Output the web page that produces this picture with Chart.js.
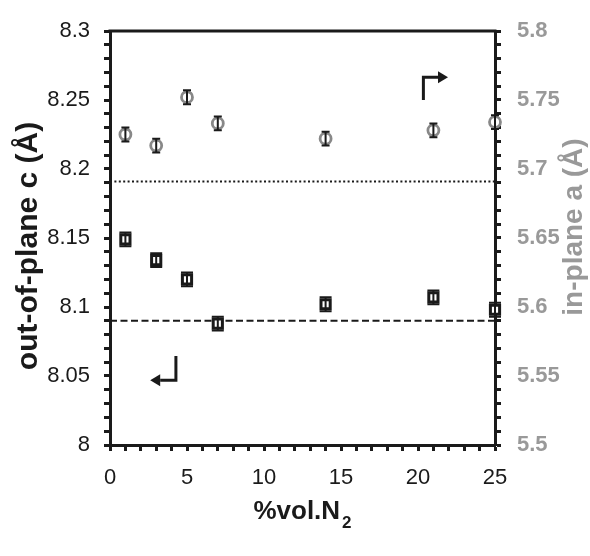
<!DOCTYPE html>
<html>
<head>
<meta charset="utf-8">
<script src="https://cdn.jsdelivr.net/npm/chart.js@4.4.1/dist/chart.umd.min.js"></script>
<style>
  html, body { margin: 0; padding: 0; background: #ffffff; }
  #wrap { width: 590px; height: 556px; position: relative; }
</style>
</head>
<body>
<div id="wrap"><canvas id="c"></canvas></div>
<script>
// ---- data ----
const nitrogen = [1, 3, 5, 7, 14, 21, 25];            // %vol. N2
const cOutOfPlane = [8.149, 8.134, 8.120, 8.088, 8.102, 8.107, 8.098]; // Å, left axis
const cError = [0.005, 0.005, 0.005, 0.005, 0.005, 0.005, 0.005];
const aInPlane = [5.725, 5.717, 5.752, 5.733, 5.722, 5.728, 5.734];   // Å, right axis
const aError = [0.005, 0.005, 0.005, 0.005, 0.005, 0.005, 0.005];
const dottedRef = 8.191;   // reference line (left axis units)
const dashedRef = 8.090;   // reference line (left axis units)
const xRange = [0, 25];
const cRange = [8.0, 8.3];
const aRange = [5.5, 5.8];
// arrow annotations in data units: [x, y] on left axis
const arrowUp = [[20.35, 8.250], [20.35, 8.2665], [21.95, 8.2665]];
const arrowDown = [[4.28, 8.0645], [4.28, 8.047], [2.61, 8.047]];

const BLACK = '#1a1a1a';
const GRAY = '#888888';
const LABEL_GRAY = '#999999';

function fmt(v) {
  const r = Math.round(v * 100);
  return r % 5 === 0 ? String(+(r / 100).toFixed(2)) : '';
}

const errorBars = {
  id: 'errorBars',
  afterDatasetsDraw(chart) {
    const ctx = chart.ctx;
    const xs = chart.scales.x;
    const sets = [
      {vals: cOutOfPlane, err: cError, scale: chart.scales.y, cap: 6},
      {vals: aInPlane, err: aError, scale: chart.scales.y2, cap: 4}
    ];
    ctx.save();
    ctx.strokeStyle = BLACK;
    ctx.lineWidth = 2;
    sets.forEach(s => {
      nitrogen.forEach((xv, i) => {
        const px = xs.getPixelForValue(xv);
        const y1 = s.scale.getPixelForValue(s.vals[i] + s.err[i]);
        const y2 = s.scale.getPixelForValue(s.vals[i] - s.err[i]);
        ctx.beginPath();
        ctx.moveTo(px, y1); ctx.lineTo(px, y2);
        ctx.moveTo(px - s.cap, y1); ctx.lineTo(px + s.cap, y1);
        ctx.moveTo(px - s.cap, y2); ctx.lineTo(px + s.cap, y2);
        ctx.stroke();
      });
    });
    ctx.restore();
  }
};

const decorations = {
  id: 'decorations',
  afterDraw(chart) {
    const ctx = chart.ctx;
    const area = chart.chartArea;
    const xs = chart.scales.x, ys = chart.scales.y;
    ctx.save();
    // top frame
    ctx.strokeStyle = BLACK;
    ctx.lineWidth = 3;
    ctx.beginPath();
    ctx.moveTo(area.left - 1.5, area.top);
    ctx.lineTo(area.right + 1.5, area.top);
    ctx.stroke();

    // arrows
    function arrow(pts) {
      const p = pts.map(q => [xs.getPixelForValue(q[0]), ys.getPixelForValue(q[1])]);
      const last = p[p.length - 1], prev = p[p.length - 2];
      const ang = Math.atan2(last[1] - prev[1], last[0] - prev[0]);
      const headLen = 10, headW = 6;
      ctx.strokeStyle = BLACK;
      ctx.fillStyle = BLACK;
      ctx.lineWidth = 3;
      ctx.lineJoin = 'miter';
      ctx.beginPath();
      ctx.moveTo(p[0][0], p[0][1]);
      for (let i = 1; i < p.length - 1; i++) ctx.lineTo(p[i][0], p[i][1]);
      ctx.lineTo(last[0] - Math.cos(ang) * headLen, last[1] - Math.sin(ang) * headLen);
      ctx.stroke();
      ctx.beginPath();
      ctx.moveTo(last[0], last[1]);
      const bx = last[0] - Math.cos(ang) * headLen, by = last[1] - Math.sin(ang) * headLen;
      ctx.lineTo(bx + Math.sin(ang) * headW, by - Math.cos(ang) * headW);
      ctx.lineTo(bx - Math.sin(ang) * headW, by + Math.cos(ang) * headW);
      ctx.closePath();
      ctx.fill();
    }
    arrow(arrowUp);
    arrow(arrowDown);

    // axis titles
    const midY = (area.top + area.bottom) / 2;
    ctx.textAlign = 'center';
    ctx.textBaseline = 'alphabetic';
    ctx.fillStyle = BLACK;
    ctx.font = 'bold 30px "Liberation Sans", Arial, sans-serif';
    ctx.save();
    ctx.translate(37, midY + 8);
    ctx.rotate(-Math.PI / 2);
    ctx.fillText('out-of-plane c (Å)', 0, 0);
    ctx.restore();

    ctx.fillStyle = LABEL_GRAY;
    ctx.font = 'bold 28px "Liberation Sans", Arial, sans-serif';
    ctx.save();
    ctx.translate(582, midY - 11);
    ctx.rotate(-Math.PI / 2);
    ctx.fillText('in-plane a (Å)', 0, 0);
    ctx.restore();

    // x title with subscript
    ctx.fillStyle = BLACK;
    ctx.textAlign = 'left';
    ctx.font = 'bold 26px "Liberation Sans", Arial, sans-serif';
    const main = '%vol.N';
    const wMain = ctx.measureText(main).width;
    ctx.font = 'bold 17px "Liberation Sans", Arial, sans-serif';
    const wSub = ctx.measureText('2').width;
    const cx = (area.left + area.right) / 2;
    const startX = cx - (wMain + wSub + 2) / 2;
    ctx.font = 'bold 26px "Liberation Sans", Arial, sans-serif';
    ctx.fillText(main, startX, 519);
    ctx.font = 'bold 17px "Liberation Sans", Arial, sans-serif';
    ctx.fillText('2', startX + wMain + 2, 528);
    ctx.restore();
  }
};

new Chart(document.getElementById('c'), {
  type: 'scatter',
  data: {
    datasets: [
      {
        label: 'c',
        data: nitrogen.map((x, i) => ({x, y: cOutOfPlane[i]})),
        yAxisID: 'y',
        pointStyle: 'rect',
        pointRadius: 6.5,
        pointBorderWidth: 3,
        pointBorderColor: BLACK,
        pointBackgroundColor: '#ffffff',
        clip: false,
        order: 1
      },
      {
        label: 'a',
        data: nitrogen.map((x, i) => ({x, y: aInPlane[i]})),
        yAxisID: 'y2',
        pointStyle: 'circle',
        pointRadius: 5.5,
        pointBorderWidth: 2.8,
        pointBorderColor: GRAY,
        pointBackgroundColor: '#ffffff',
        clip: false,
        order: 1
      },
      {
        type: 'line',
        label: 'dotted',
        data: [{x: xRange[0], y: dottedRef}, {x: xRange[1], y: dottedRef}],
        yAxisID: 'y',
        borderColor: BLACK,
        borderWidth: 2,
        borderDash: [2, 2.4],
        pointRadius: 0,
        fill: false,
        order: 2
      },
      {
        type: 'line',
        label: 'dashed',
        data: [{x: xRange[0], y: dashedRef}, {x: xRange[1], y: dashedRef}],
        yAxisID: 'y',
        borderColor: BLACK,
        borderWidth: 2,
        borderDash: [7, 3.5],
        pointRadius: 0,
        fill: false,
        order: 2
      }
    ]
  },
  options: {
    responsive: true,
    maintainAspectRatio: false,
    animation: false,
    layout: { padding: { top: 31, left: 0, right: 0, bottom: 0 } },
    plugins: { legend: { display: false }, tooltip: { enabled: false } },
    scales: {
      x: {
        type: 'linear',
        min: xRange[0], max: xRange[1],
        afterFit(s) { s.height = 111; },
        border: { display: true, color: BLACK, width: 3 },
        grid: { drawOnChartArea: false, drawTicks: true, tickLength: 6, tickWidth: 3, tickColor: BLACK },
        ticks: {
          stepSize: 1, autoSkip: false, maxRotation: 0, padding: 14,
          color: BLACK,
          font: { family: '"Liberation Sans", Arial, sans-serif', size: 22 },
          callback: v => (Math.round(v) % 5 === 0 ? String(Math.round(v)) : '')
        }
      },
      y: {
        type: 'linear', position: 'left',
        min: cRange[0], max: cRange[1],
        afterFit(s) { s.width = 110; },
        border: { display: true, color: BLACK, width: 3 },
        grid: { drawOnChartArea: false, drawTicks: true, tickLength: 6, tickWidth: 3, tickColor: BLACK },
        ticks: {
          stepSize: 0.01, autoSkip: false, padding: 14,
          color: BLACK,
          font: { family: '"Liberation Sans", Arial, sans-serif', size: 22 },
          callback: fmt
        }
      },
      y2: {
        type: 'linear', position: 'right',
        min: aRange[0], max: aRange[1],
        afterFit(s) { s.width = 95; },
        border: { display: true, color: BLACK, width: 3 },
        grid: { drawOnChartArea: false, drawTicks: true, tickLength: 6, tickWidth: 3, tickColor: BLACK },
        ticks: {
          stepSize: 0.01, autoSkip: false, padding: 16,
          color: LABEL_GRAY,
          font: { family: '"Liberation Sans", Arial, sans-serif', size: 22, weight: 'bold' },
          callback: fmt
        }
      }
    }
  },
  plugins: [errorBars, decorations]
});
</script>
</body>
</html>
